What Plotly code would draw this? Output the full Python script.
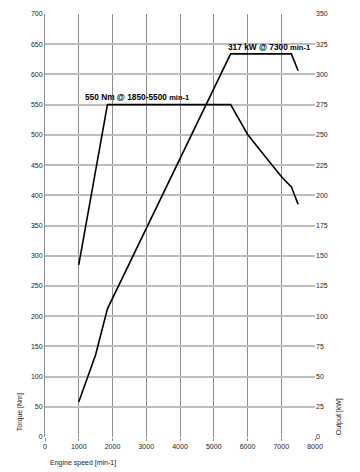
import plotly.graph_objects as go

# Data
torque_rpm = [1000, 1850, 5500, 6000, 6500, 7000, 7300, 7500]
torque_nm = [285, 550, 550, 501, 466, 431, 414, 385]

power_rpm = [1000, 1500, 1850, 5500, 7300, 7500]
power_kw = [29, 68, 106, 317, 317, 303]

x_ticks = [0, 1000, 2000, 3000, 4000, 5000, 6000, 7000, 8000]
torque_ticks = list(range(0, 701, 50))
power_ticks = list(range(0, 351, 25))

torque_label = "550 Nm @ 1850-5500"
power_label = "317 kW @ 7300"
unit_label = "min-1"

fig = go.Figure()
fig.add_trace(go.Scatter(x=torque_rpm, y=torque_nm, mode="lines",
                         line=dict(color="black", width=1.6), yaxis="y", showlegend=False))
fig.add_trace(go.Scatter(x=power_rpm, y=power_kw, mode="lines",
                         line=dict(color="black", width=1.6), yaxis="y2", showlegend=False))

tickfont = dict(family="Liberation Sans, Arial", size=7, color="#222222")

fig.update_layout(
    width=360, height=472,
    margin=dict(l=45, r=45, t=10, b=35),
    paper_bgcolor="white", plot_bgcolor="white",
    xaxis=dict(range=[0, 8000], tickvals=x_ticks, ticktext=[str(v) for v in x_ticks],
               showgrid=True, gridcolor="#8c8c8c", gridwidth=1,
               ticks="outside", ticklen=3, tickcolor="#8c8c8c",
               zeroline=False, showline=False, tickfont=tickfont),
    yaxis=dict(range=[0, 700], tickvals=torque_ticks, ticktext=[str(v) for v in torque_ticks],
               showgrid=True, gridcolor="#bdbdbd", gridwidth=2,
               zeroline=False, showline=True, linecolor="#8c8c8c", linewidth=1,
               ticks="", tickfont=tickfont),
    yaxis2=dict(range=[0, 350], tickvals=power_ticks, ticktext=[str(v) for v in power_ticks],
                overlaying="y", side="right", showgrid=False, zeroline=False,
                showline=False, ticks="", tickfont=tickfont),
    annotations=[
        dict(x=1126, y=563, xref="x", yref="y", xanchor="left", yanchor="middle",
             text="<b>" + torque_label + " <span style='font-size:7.5px'>" + unit_label + "</span></b>",
             showarrow=False, font=dict(family="Liberation Sans, Arial", size=8.3, color="black")),
        dict(x=5373, y=645, xref="x", yref="y", xanchor="left", yanchor="middle",
             text="<b>" + power_label + " <span style='font-size:7.5px'>" + unit_label + "</span></b>",
             showarrow=False, font=dict(family="Liberation Sans, Arial", size=8.3, color="black")),
        dict(x=83, y=463, text="Engine speed [min-1]",
             showarrow=False, font=dict(family="Liberation Sans, Arial", size=7, color="#222222"),
             xanchor="center", yanchor="middle"),
        dict(x=20, y=412, text="Torque [Nm]", textangle=-90, showarrow=False,
             font=dict(family="Liberation Sans, Arial", size=7, color="#222222"),
             xanchor="center", yanchor="middle"),
        dict(x=339, y=417, text="Output [kW]", textangle=-90, showarrow=False,
             font=dict(family="Liberation Sans, Arial", size=7, color="#222222"),
             xanchor="center", yanchor="middle"),
    ],
)

# convert pixel-positioned labels to paper coordinates
pw = 360 - 45 - 45
ph = 472 - 10 - 35
for a in fig.layout.annotations[2:]:
    px, py = a.x, a.y
    a.xref = "paper"
    a.yref = "paper"
    a.x = (px - 45) / pw
    a.y = (472 - 35 - py) / ph

fig.write_html("out.html")
